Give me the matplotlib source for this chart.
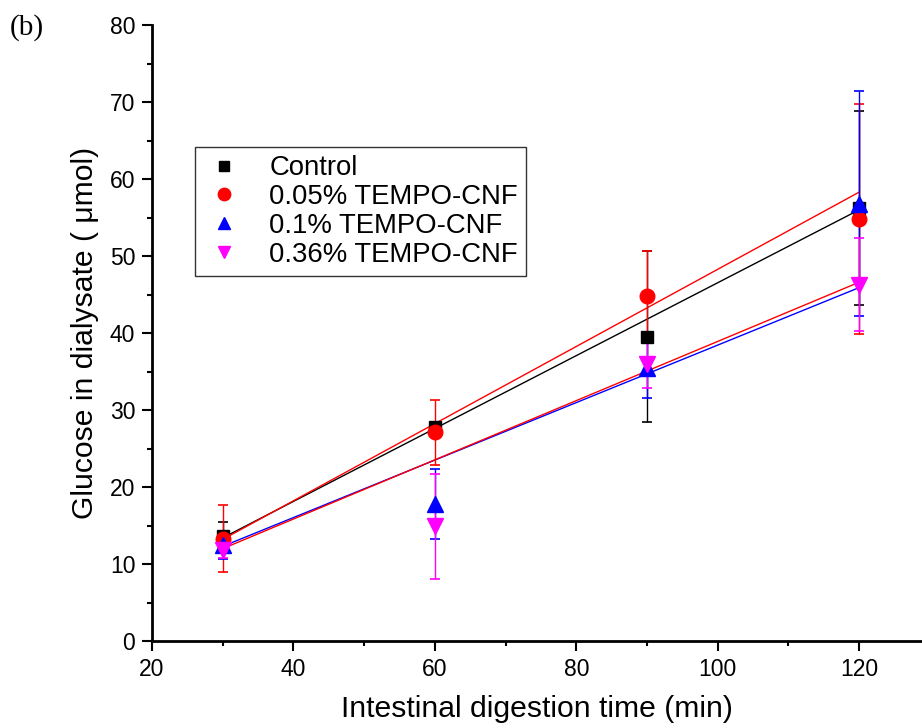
import matplotlib.pyplot as plt
import numpy as np

plt.rcParams['font.family'] = ['Liberation Sans', 'DejaVu Sans']

# digestion time (min)
t = [30, 60, 90, 120]

# glucose in dialysate (umol), mean and error
ctrl = [13.6, 27.8, 39.5, 56.2]
ctrl_err = [1.8, 0.5, 11.1, 12.6]
cnf005 = [13.3, 27.1, 44.8, 54.8]
cnf005_err = [4.4, 4.2, 5.9, 14.9]
cnf01 = [12.5, 17.8, 35.4, 56.8]
cnf01_err = [1.8, 4.6, 3.9, 14.6]
cnf036 = [11.8, 14.9, 36.0, 46.3]
cnf036_err = [1.0, 6.8, 3.2, 6.0]

# linear fits shown in the figure: value at 30 min and at 120 min
fit_ends = {
    'ctrl': (13.4, 56.0),
    'cnf005': (13.2, 58.3),
    'cnf01': (12.3, 45.9),
    'cnf036': (12.0, 46.6),
}

series = [
    ('Control', ctrl, ctrl_err, 's', 9, 'black', 'ctrl', 'black'),
    ('0.05% TEMPO-CNF', cnf005, cnf005_err, 'o', 10.5, 'red', 'cnf005', 'red'),
    ('0.1% TEMPO-CNF', cnf01, cnf01_err, '^', 11, 'blue', 'cnf01', 'blue'),
    ('0.36% TEMPO-CNF', cnf036, cnf036_err, 'v', 11, 'magenta', 'cnf036', 'red'),
]

fig = plt.figure(figsize=(9.22, 7.28), dpi=100)
ax = fig.add_axes([0.1649, 0.1195, 0.8351, 0.846])

for label, y, err, mk, ms, col, key, fitcol in series:
    a, b = fit_ends[key]
    ax.plot([t[0], t[-1]], [a, b], color=fitcol, lw=1, zorder=2)
for label, y, err, mk, ms, col, key, fitcol in series:
    ax.errorbar(t, y, yerr=err, fmt=mk, color=col, ms=ms,
                ecolor=col, elinewidth=1, capsize=3.7, capthick=1.2,
                label=label, zorder=3)

ax.set_xlim(20, 128.9)
ax.set_ylim(0, 80)
ax.set_xticks([20, 40, 60, 80, 100, 120])
ax.set_xticks(np.arange(30, 130, 20), minor=True)
ax.set_yticks(np.arange(0, 81, 10))
ax.set_yticks(np.arange(5, 80, 10), minor=True)
for s in ['top', 'right']:
    ax.spines[s].set_visible(False)
for s in ['left', 'bottom']:
    ax.spines[s].set_linewidth(2)
ax.tick_params(which='major', direction='out', length=7, width=1.5, labelsize=16.5, pad=5)
ax.tick_params(which='minor', direction='out', length=3.5, width=1.5)
ax.set_xlabel('Intestinal digestion time (min)', fontsize=21.7, labelpad=10)
ax.set_ylabel('Glucose in dialysate ( μmol)', fontsize=21.7, labelpad=8)

handles, labels = ax.get_legend_handles_labels()
handles = [h[0] for h in handles]
leg = ax.legend(handles, labels, loc='upper left', bbox_to_anchor=(0.0558, 0.802),
                fontsize=19.8, frameon=True, fancybox=False, edgecolor='black',
                handlelength=1.5, handletextpad=0.9, borderpad=0.3, labelspacing=0.1,
                markerscale=0.85, borderaxespad=0)
leg.get_frame().set_linewidth(1)

fig.text(0.011, 0.953, '(b)', fontsize=21, family='Liberation Serif')

fig.savefig('out.png', dpi=100)
